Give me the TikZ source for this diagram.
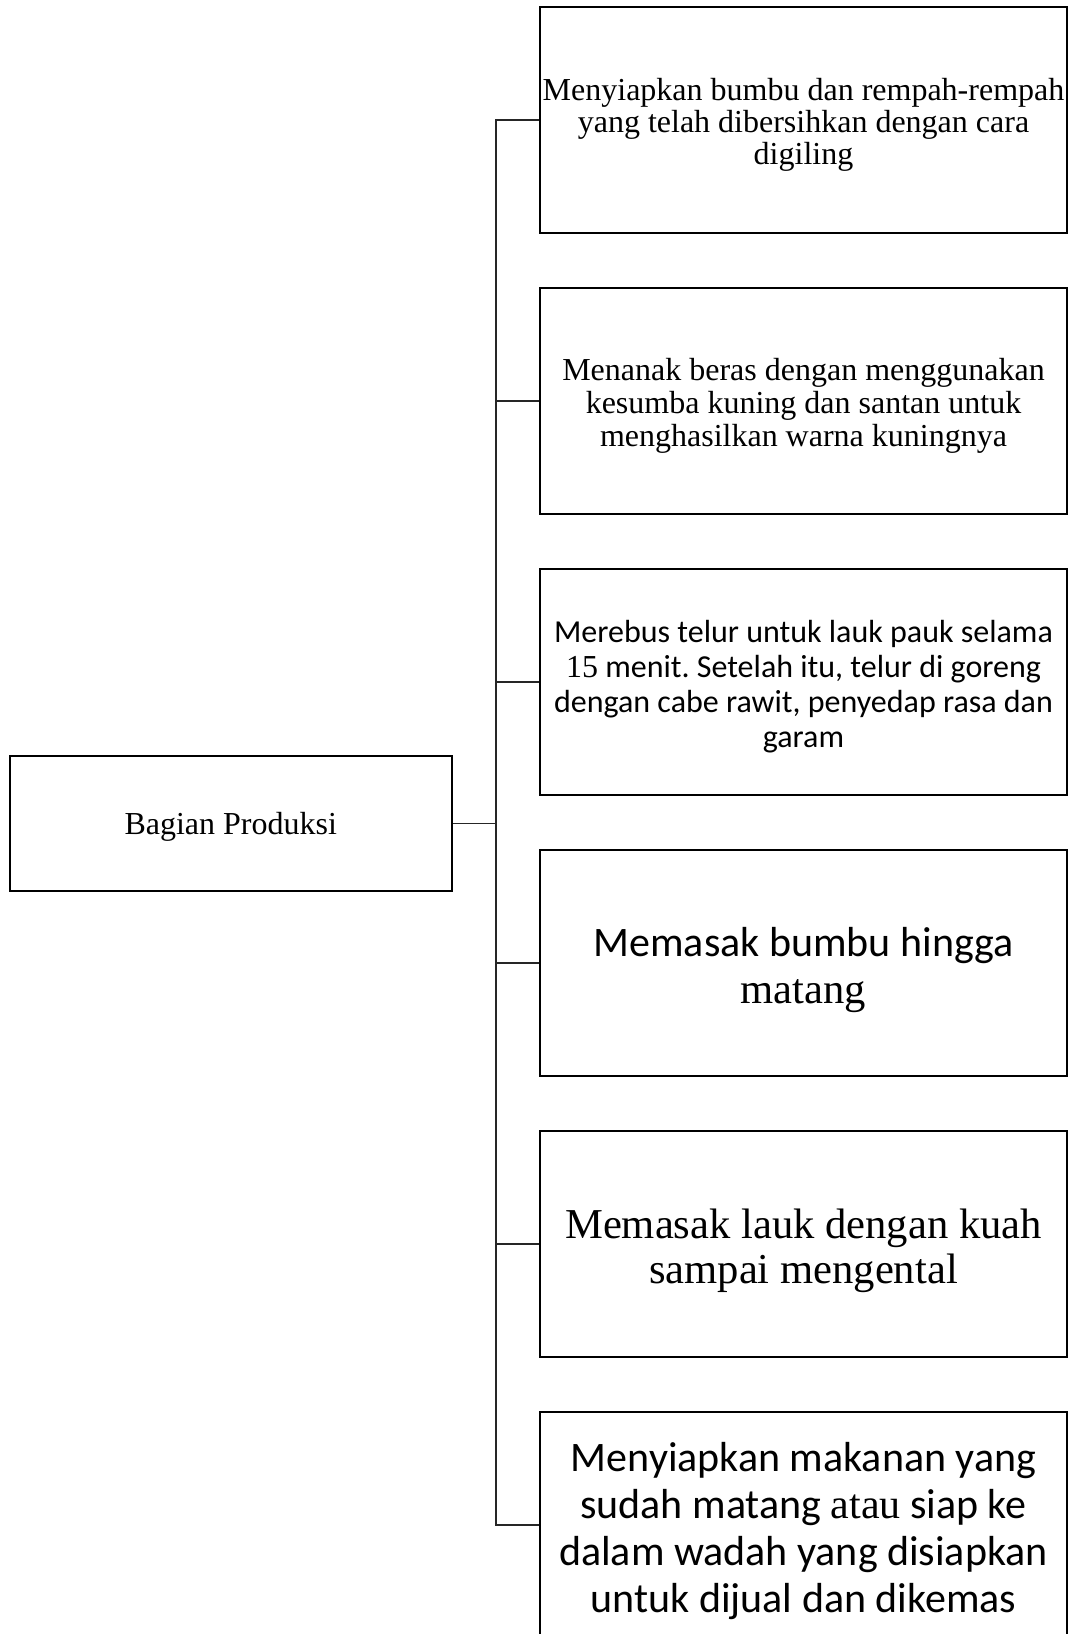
\documentclass[tikz,border=0pt]{standalone}
\usepackage{fontspec}
\setmainfont{Liberation Serif}
\newfontfamily\calibri{Carlito}
\newfontfamily\tnr{Liberation Serif}
\frenchspacing

\begin{document}
\begin{tikzpicture}[x=0.5pt, y=-0.5pt,
	stepbox/.style={draw, line width=1pt, rectangle, inner sep=0pt,
		minimum width=263.5pt, minimum height=113pt},
	steptext/.style={inner sep=0pt, align=center},
	link/.style={line width=0.7pt, color=black!85}]
	\useasboundingbox (0,0) rectangle (1072,1634);
	\node[stepbox, minimum width=221.25pt, minimum height=67.5pt] (prod) at (230.75,823.5) {};
	\node[steptext, font=\fontsize{16}{16}\selectfont] (prodtext) at ([yshift=-1.5pt]prod.center) {Bagian Produksi};
	\coordinate (sp) at (496,0);

	% kotak langkah produksi
	\foreach \k/\ypos in {1/120,2/401,3/682,4/963,5/1244,6/1525}
		\node[stepbox] (s\k) at (803.5,\ypos) {};

	\node[steptext, font=\fontsize{16}{16}\selectfont] (t1) at ([yshift=-2.5pt]s1.center)
		{Menyiapkan bumbu dan rempah-rempah\\ yang telah dibersihkan dengan cara\\ digiling};
	\node[steptext, font=\fontsize{16}{16.4}\selectfont] (t2) at ([yshift=-2.5pt]s2.center)
		{Menanak beras dengan menggunakan\\ kesumba kuning dan santan untuk\\ menghasilkan warna kuningnya};
	\node[steptext, font=\calibri\fontsize{16}{17.5}\selectfont] (t3) at ([yshift=-2.5pt]s3.center)
		{Merebus telur untuk lauk pauk selama\\ {\tnr 15} menit. Setelah itu, telur di goreng\\ dengan cabe rawit, penyedap rasa dan\\ garam};
	\node[steptext, font=\calibri\fontsize{21}{23.5}\selectfont] (t4) at ([yshift=-3.5pt]s4.center)
		{Memasak bumbu hingga\\ {\tnr\fontsize{21.3}{23.5}\selectfont matang}};
	\node[steptext, font=\fontsize{21.3}{22.5}\selectfont] (t5) at ([yshift=-3.5pt]s5.center)
		{Memasak lauk dengan kuah\\ sampai mengental};
	\node[steptext, font=\calibri\fontsize{21}{23.5}\selectfont] (t6) at ([yshift=-3pt]s6.center)
		{Menyiapkan makanan yang\\ sudah matang {\tnr atau} siap ke\\ dalam wadah yang disiapkan\\ untuk dijual dan dikemas};

	\draw[link] (prod.east) -- (prod.east -| sp);
	\draw[link] (s1.west) -- (s1.west -| sp) -- (s6.west -| sp) -- (s6.west);
	\foreach \k in {2,...,5}
		\draw[link] (s\k.west) -- (s\k.west -| sp);
\end{tikzpicture}
\end{document}
